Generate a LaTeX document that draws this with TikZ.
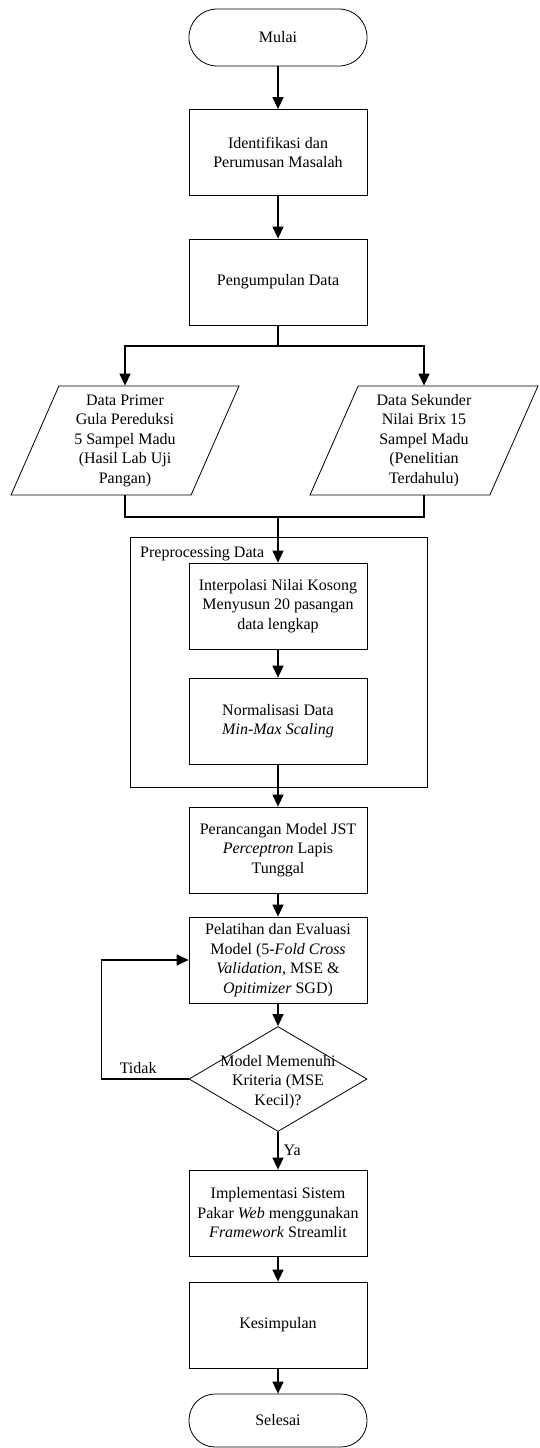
\documentclass[tikz,border=0pt]{standalone}
\usepackage{fontspec}
\setmainfont{Liberation Serif}
\usetikzlibrary{arrows.meta}
\usetikzlibrary{shapes.geometric}

\begin{document}
\begin{tikzpicture}[x=1pt,y=-1pt,
        font=\fontsize{16}{19.5}\selectfont,
        proses/.style={draw,line width=0.8pt,minimum width=178,minimum height=86,align=center,inner sep=2pt},
        terminal/.style={draw,line width=0.8pt,rounded corners=28,minimum width=178,minimum height=57},
        data/.style={trapezium,trapezium left angle=63,trapezium right angle=117,trapezium stretches body,
            draw,line width=0.8pt,minimum width=228,minimum height=109,align=center,inner sep=1pt},
        garis/.style={line width=1.3pt},
        arr/.style={line width=1.3pt,-{Triangle[length=12pt,width=11pt]}}]
        \useasboundingbox (0,0) rectangle (539,1448);

        \node[terminal] (mulai) at (278,37.5) {Mulai};
        \node[proses] (ident) at (278,152.5) {Identifikasi dan\\Perumusan Masalah};
        \node[proses] (kumpul) at (278,282) {Pengumpulan Data};
        \node[data] (primer) at (125,440.5) {Data Primer\\Gula Pereduksi\\5 Sampel Madu\\(Hasil Lab Uji\\Pangan)};
        \node[data] (sekunder) at (424,440.5) {Data Sekunder\\Nilai Brix 15\\Sampel Madu\\(Penelitian\\Terdahulu)};

        \node[draw,line width=0.8pt,minimum width=297,minimum height=250] (prepro) at (278.5,662) {};
        \node[anchor=base west,inner sep=0] (preprolabel) at (140,557) {Preprocessing Data};
        \node[proses] (interp) at (278,606) {Interpolasi Nilai Kosong\\Menyusun 20 pasangan\\data lengkap};
        \node[proses] (norm) at (278,721) {Normalisasi Data\\\textit{Min-Max Scaling}};

        \node[proses] (rancang) at (278,850) {Perancangan Model JST\\\textit{Perceptron} Lapis\\Tunggal};
        \node[proses] (latih) at (278,960) {Pelatihan dan Evaluasi\\Model (5-\textit{Fold Cross}\\\textit{Validation}, MSE \&\\\textit{Opitimizer} SGD)};
        \node[diamond,draw,line width=0.8pt,minimum width=178,minimum height=105,inner sep=0] (cek) at (278,1079) {};
        \node[align=center,inner sep=0] (cektext) at (278,1082) {Model Memenuhi\\Kriteria (MSE\\Kecil)?};
        \node[proses] (impl) at (278,1213) {Implementasi Sistem\\Pakar \textit{Web} menggunakan\\\textit{Framework} Streamlit};
        \node[proses] (simpul) at (278,1325) {Kesimpulan};
        \node[terminal,minimum height=53,rounded corners=26] (selesai) at (278,1420.5) {Selesai};

        \coordinate (cabang) at (278,346);
        \coordinate (gabung) at (278,517);

        \draw[arr] (mulai) -- (ident);
        \draw[arr] (ident) -- (kumpul);
        \draw[garis] (kumpul) -- (cabang);
        \draw[arr] (cabang) -| (primer.north);
        \draw[arr] (cabang) -| (sekunder.north);
        \draw[garis] (primer.south) |- (gabung) -| (sekunder.south);
        \draw[arr] (gabung) -- (interp);
        \draw[arr] (interp) -- (norm);
        \draw[arr] (norm) -- (rancang);
        \draw[arr] (rancang) -- (latih);
        \draw[arr] (latih) -- (cek);
        \draw[arr] (cek.west) -- node[above=4.5pt,pos=0.58,inner sep=0] {Tidak} ++(-87,0) |- (latih.west);
        \draw[arr] (cek) -- node[right=5pt,inner sep=0] {Ya} (impl);
        \draw[arr] (impl) -- (simpul);
        \draw[arr] (simpul) -- (selesai);
    \end{tikzpicture}
\end{document}
